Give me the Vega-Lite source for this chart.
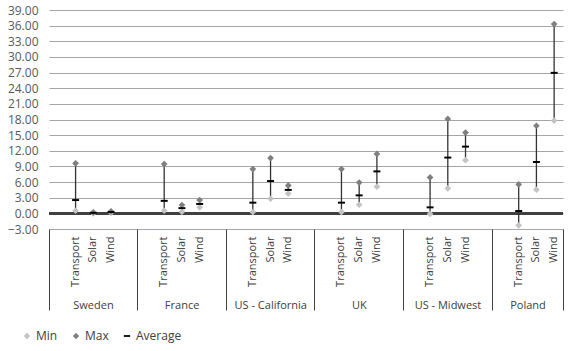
{
  "$schema": "https://vega.github.io/schema/vega-lite/v6.json",
  "width": 514,
  "height": 219,
  "autosize": {"type": "none"},
  "padding": {"left": 49, "top": 10, "right": 17, "bottom": 122},
  "config": {
    "view": {"stroke": null},
    "font": "Open Sans",
    "axis": {"labelFont": "Open Sans", "labelColor": "#404040"},
    "legend": {"labelFont": "Open Sans"}
  },
  "data": {
    "values": [
      {"country": "Sweden", "type": "Transport", "key": "Sweden|Transport", "Min": 0.5, "Max": 9.6, "Average": 2.55},
      {"country": "Sweden", "type": "Solar", "key": "Sweden|Solar", "Min": 0.0, "Max": 0.2, "Average": 0.1},
      {"country": "Sweden", "type": "Wind", "key": "Sweden|Wind", "Min": 0.1, "Max": 0.4, "Average": 0.25},
      {"country": "France", "type": "Transport", "key": "France|Transport", "Min": 0.5, "Max": 9.45, "Average": 2.4},
      {"country": "France", "type": "Solar", "key": "France|Solar", "Min": 0.3, "Max": 1.6, "Average": 1.0},
      {"country": "France", "type": "Wind", "key": "France|Wind", "Min": 1.15, "Max": 2.55, "Average": 1.8},
      {"country": "US - California", "type": "Transport", "key": "US - California|Transport", "Min": 0.25, "Max": 8.5, "Average": 2.05},
      {"country": "US - California", "type": "Solar", "key": "US - California|Solar", "Min": 2.8, "Max": 10.6, "Average": 6.2},
      {"country": "US - California", "type": "Wind", "key": "US - California|Wind", "Min": 3.8, "Max": 5.35, "Average": 4.5},
      {"country": "UK", "type": "Transport", "key": "UK|Transport", "Min": 0.25, "Max": 8.5, "Average": 2.05},
      {"country": "UK", "type": "Solar", "key": "UK|Solar", "Min": 1.65, "Max": 5.9, "Average": 3.45},
      {"country": "UK", "type": "Wind", "key": "UK|Wind", "Min": 5.1, "Max": 11.4, "Average": 8.05},
      {"country": "US - Midwest", "type": "Transport", "key": "US - Midwest|Transport", "Min": -0.1, "Max": 6.9, "Average": 1.15},
      {"country": "US - Midwest", "type": "Solar", "key": "US - Midwest|Solar", "Min": 4.8, "Max": 18.1, "Average": 10.7},
      {"country": "US - Midwest", "type": "Wind", "key": "US - Midwest|Wind", "Min": 10.2, "Max": 15.5, "Average": 12.8},
      {"country": "Poland", "type": "Transport", "key": "Poland|Transport", "Min": -2.3, "Max": 5.55, "Average": 0.45},
      {"country": "Poland", "type": "Solar", "key": "Poland|Solar", "Min": 4.55, "Max": 16.8, "Average": 9.85},
      {"country": "Poland", "type": "Wind", "key": "Poland|Wind", "Min": 17.8, "Max": 36.3, "Average": 26.95}
    ]
  },
  "resolve": {"axis": {"x": "independent"}},
  "layer": [
    {
      "mark": {"type": "rule", "color": "#404040", "strokeWidth": 1.6},
      "encoding": {
        "y": {"datum": 0, "type": "quantitative", "scale": {"domain": [-3, 39], "nice": false, "zero": false},
          "axis": {"values": [-3, 0, 3, 6, 9, 12, 15, 18, 21, 24, 27, 30, 33, 36, 39], "tickCount": 50, "format": ".2f", "grid": true, "gridColor": "#a6a6a6", "gridWidth": 1, "domain": false, "ticks": false, "labelPadding": 11, "labelFontSize": 12, "labelColor": "#595959", "labelOverlap": false, "labelBound": false, "labelFlush": false, "title": null}}
      }
    },
    {
      "mark": {"type": "rule", "color": "#333333", "strokeWidth": 1.3},
      "encoding": {
        "x": {"field": "key", "type": "nominal",
          "scale": {"type": "band", "paddingInner": 0, "paddingOuter": 0,
            "domain": ["Sweden|_0", "Sweden|Transport", "Sweden|Solar", "Sweden|Wind", "Sweden|_4",
                       "France|_0", "France|Transport", "France|Solar", "France|Wind", "France|_4",
                       "US - California|_0", "US - California|Transport", "US - California|Solar", "US - California|Wind", "US - California|_4",
                       "UK|_0", "UK|Transport", "UK|Solar", "UK|Wind", "UK|_4",
                       "US - Midwest|_0", "US - Midwest|Transport", "US - Midwest|Solar", "US - Midwest|Wind", "US - Midwest|_4",
                       "Poland|_0", "Poland|Transport", "Poland|Solar", "Poland|Wind"]},
          "axis": {"orient": "bottom", "title": null, "domain": false, "ticks": false, "grid": false,
            "values": ["Sweden|Transport", "Sweden|Solar", "Sweden|Wind", "France|Transport", "France|Solar", "France|Wind",
                       "US - California|Transport", "US - California|Solar", "US - California|Wind",
                       "UK|Transport", "UK|Solar", "UK|Wind", "US - Midwest|Transport", "US - Midwest|Solar", "US - Midwest|Wind",
                       "Poland|Transport", "Poland|Solar", "Poland|Wind"],
            "labelExpr": "split(datum.value, '|')[1]",
            "labelAngle": 270, "labelAlign": "right", "labelBaseline": "middle", "labelPadding": 7,
            "labelFontSize": 11, "labelOverlap": false, "labelBound": false, "labelFlush": false}},
        "y": {"field": "Min", "type": "quantitative"},
        "y2": {"field": "Max"}
      }
    },
    {
      "transform": [{"fold": ["Min", "Max"], "as": ["stat", "value"]}],
      "mark": {"type": "point", "filled": true, "size": 45, "opacity": 1},
      "encoding": {
        "x": {"field": "key", "type": "nominal",
          "axis": {"orient": "bottom", "title": null, "domain": false, "grid": false,
            "values": ["Sweden|_0", "France|_0", "US - California|_0", "UK|_0", "US - Midwest|_0", "Poland|_0"],
            "bandPosition": 0, "tickExtra": false,
            "ticks": true, "tickSize": 81, "tickColor": "#404040", "tickWidth": 1,
            "labelExpr": "split(datum.value, '|')[0]",
            "labelAngle": 0, "labelAlign": "center", "labelBaseline": "top",
            "labelOffset": {"condition": {"test": "datum.value == 'Poland|_0'", "value": 27}, "value": 35.6},
            "labelPadding": -11, "labelFontSize": 11, "labelOverlap": false, "labelBound": false, "labelFlush": false}},
        "y": {"field": "value", "type": "quantitative"},
        "color": {"field": "stat", "type": "nominal",
          "scale": {"domain": ["Min", "Max", "Average"], "range": ["#c3c3c3", "#7f7f7f", "#000000"]},
          "legend": {"title": null, "orient": "none", "legendX": -28, "legendY": 320, "direction": "horizontal",
            "labelFontSize": 12, "labelColor": "#404040", "symbolSize": 40, "symbolStrokeWidth": 0, "columnPadding": 12, "labelOffset": 3}},
        "shape": {"field": "stat", "type": "nominal",
          "scale": {"domain": ["Min", "Max", "Average"], "range": ["diamond", "diamond", "M-1,-0.28L1,-0.28L1,0.28L-1,0.28Z"]}}
      }
    },
    {
      "transform": [{"fold": ["Average"], "as": ["stat", "value"]}],
      "mark": {"type": "point", "filled": true, "size": 49, "opacity": 1},
      "encoding": {
        "x": {"field": "key", "type": "nominal",
          "axis": {"orient": "bottom", "title": null, "domain": false, "grid": false, "labels": false,
            "values": ["Poland|Wind"], "bandPosition": 1, "tickExtra": false,
            "ticks": true, "tickSize": 81, "tickColor": "#404040", "tickWidth": 1}},
        "y": {"field": "value", "type": "quantitative"},
        "color": {"field": "stat", "type": "nominal"},
        "shape": {"field": "stat", "type": "nominal"}
      }
    }
  ]
}
